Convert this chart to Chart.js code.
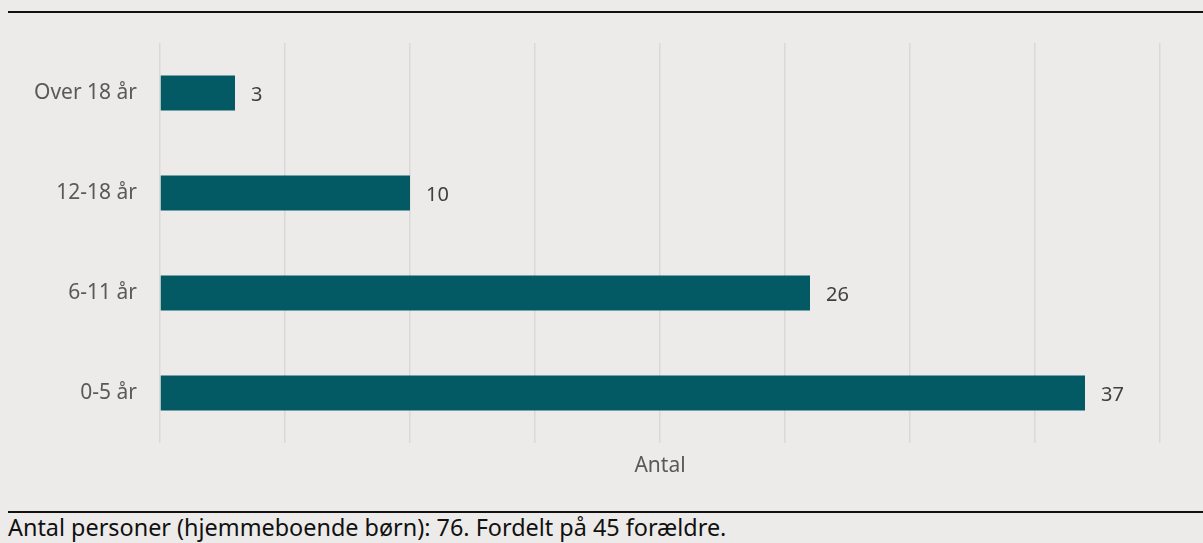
<!DOCTYPE html>
<html>
<head>
<meta charset="utf-8">
<script src="https://cdn.jsdelivr.net/npm/chart.js@4"></script>
<style>
  body { margin: 0; background: #ecebe9; font-family: "Noto Sans", sans-serif; }
  .figure { position: absolute; left: 8px; top: 11px; width: 1195px; }
  .box { border-top: 2px solid #111; border-bottom: 2px solid #111; background: #ecebe9; height: 498px; position: relative; }
  .caption { font-size: 23.4px; color: #111; margin-top: 0; line-height: 29px; white-space: nowrap; }
</style>
</head>
<body>
<div class="figure">
  <div class="box"><canvas id="chart"></canvas></div>
  <div class="caption">Antal personer (hjemmeboende børn): 76. Fordelt på 45 forældre.</div>
</div>
<script>
// data
const categories = ['Over 18 år', '12-18 år', '6-11 år', '0-5 år'];
const counts = [3, 10, 26, 37];
const axisTitle = 'Antal';

const barColor = '#035a64';
const labelColor = '#595959';

// draw the value next to each bar
const valueLabels = {
    id: 'valueLabels',
    afterDatasetsDraw(chart) {
        const ctx = chart.ctx;
        const meta = chart.getDatasetMeta(0);
        ctx.save();
        ctx.font = '20px "Noto Sans"';
        ctx.fillStyle = '#404040';
        ctx.textAlign = 'left';
        ctx.textBaseline = 'middle';
        meta.data.forEach((bar, i) => {
            ctx.fillText(counts[i], bar.x + 16, bar.y + 2);
        });
        ctx.restore();
    }
};

const canvas = document.getElementById('chart');
canvas.style.width = '1195px';
canvas.style.height = '498px';

new Chart(canvas.getContext('2d'), {
    type: 'bar',
    data: {
        labels: categories,
        datasets: [{
            data: counts,
            backgroundColor: barColor,
            borderWidth: 0,
            barPercentage: 0.35,
            categoryPercentage: 1
        }]
    },
    options: {
        indexAxis: 'y',
        responsive: false,
        animation: false,
        layout: { padding: { top: 30, right: 43, left: 0, bottom: 32 } },
        scales: {
            x: {
                min: 0,
                max: 40,
                ticks: { display: false, stepSize: 5 },
                grid: { color: '#d9d9d9', lineWidth: 1.5, drawTicks: false },
                border: { display: false },
                title: {
                    display: true,
                    text: axisTitle,
                    color: labelColor,
                    font: { family: 'Noto Sans', size: 21 },
                    padding: { top: 0, bottom: 0 }
                },
                afterFit(scale) { scale.height = 36; }
            },
            y: {
                ticks: { color: labelColor, font: { family: 'Noto Sans', size: 21 }, padding: 23 },
                grid: { display: false, drawTicks: false },
                border: { display: false },
                afterFit(scale) {
                    scale.width = 152;
                    // tick padding should not push the plot area down
                    scale.paddingTop = 0;
                    scale.paddingBottom = 0;
                }
            }
        },
        plugins: {
            legend: { display: false },
            tooltip: { enabled: false }
        }
    },
    plugins: [valueLabels]
});
</script>
</body>
</html>
